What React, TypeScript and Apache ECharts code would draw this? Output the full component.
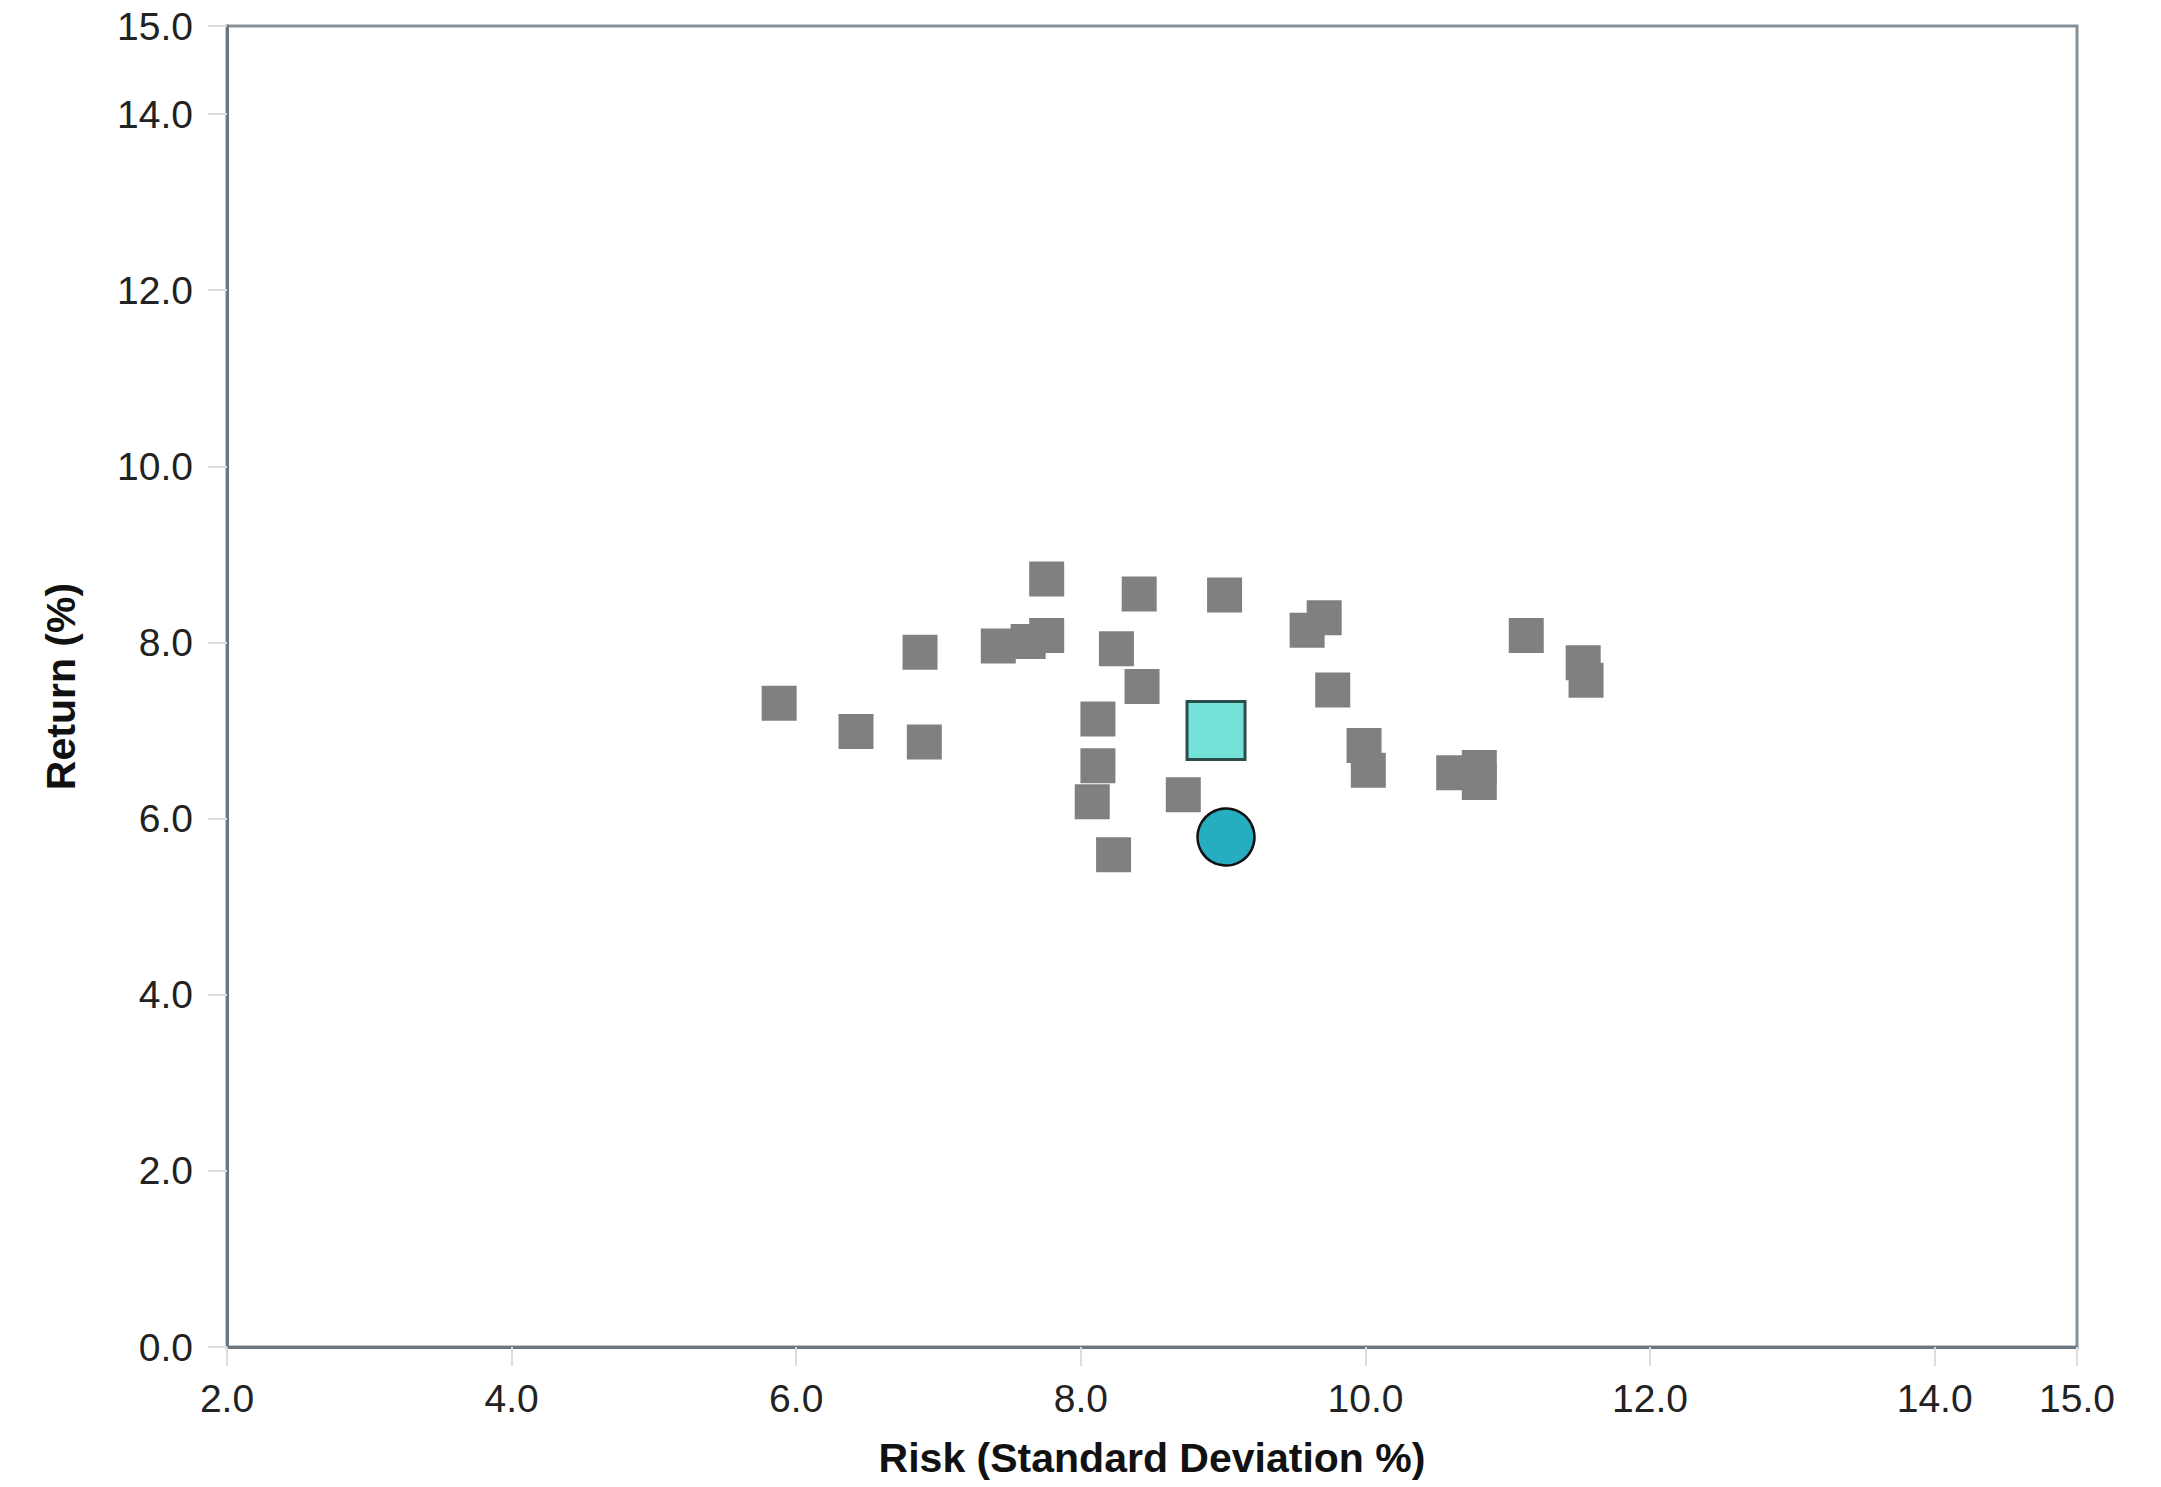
import React, { useEffect, useRef } from "react";
import * as echarts from "echarts";

// Peer group (gray squares): risk (std dev %) and return (%)
const peerRisk = [
  5.88, 6.42, 6.87, 6.9, 7.42, 7.63, 7.76, 7.76, 8.25, 8.41, 8.43, 8.12, 8.12, 8.08,
  8.23, 8.72, 9.01, 9.59, 9.71, 9.77, 9.99, 10.02, 10.62, 10.8, 10.8, 11.13, 11.53, 11.55,
];
const peerReturn = [
  7.31, 6.99, 7.89, 6.87, 7.96, 8.01, 8.08, 8.72, 7.93, 8.55, 7.5, 7.13, 6.6, 6.19,
  5.59, 6.27, 8.54, 8.14, 8.28, 7.46, 6.83, 6.55, 6.52, 6.58, 6.41, 8.08, 7.77, 7.57,
];

// Highlighted portfolio (cyan square) and benchmark (teal circle)
const portfolioPoint = [8.95, 7.0];
const benchmarkPoint = [9.02, 5.79];

const xAxisRange = [2, 15];
const yAxisRange = [0, 15];
const tickStep = 2;

const xAxisTitle = "Risk (Standard Deviation %)";
const yAxisTitle = "Return (%)";

const FONT = "'Liberation Sans', Arial, Helvetica, sans-serif";

export default function App() {
  const ref = useRef<HTMLDivElement>(null);

  useEffect(() => {
    if (!ref.current) return;
    const chart = echarts.init(ref.current, undefined, { renderer: "svg" });

    const peerData = peerRisk.map((r, i) => [r, peerReturn[i]]);

    const makeAxis = (labelMargin: number) => ({
      type: "value" as const,
      interval: tickStep,
      splitLine: { show: false },
      axisTick: {
        show: true,
        inside: false,
        length: 19,
        lineStyle: { color: "#dcdcdc", width: 2 },
      },
      axisLine: { show: true, lineStyle: { color: "#6b767e", width: 3 } },
      axisLabel: {
        color: "#222",
        fontFamily: FONT,
        fontSize: 39,
        margin: labelMargin,
        formatter: (v: number) => v.toFixed(1),
      },
      nameLocation: "middle" as const,
      nameTextStyle: {
        color: "#111",
        fontFamily: FONT,
        fontSize: 41,
        fontWeight: "bold" as const,
      },
    });

    chart.setOption({
      animation: false,
      backgroundColor: "#ffffff",
      grid: {
        left: 227,
        right: 84,
        top: 26,
        bottom: 140,
        show: true,
        borderColor: "#848f96",
        borderWidth: 3,
        backgroundColor: "transparent",
      },
      xAxis: {
        ...makeAxis(32),
        min: xAxisRange[0],
        max: xAxisRange[1],
        name: xAxisTitle,
        nameGap: 90,
      },
      yAxis: {
        ...makeAxis(34),
        min: yAxisRange[0],
        max: yAxisRange[1],
        name: yAxisTitle,
        nameGap: 146,
        nameRotate: 90,
      },
      series: [
        {
          type: "scatter",
          name: "Peers",
          data: peerData,
          symbol: "rect",
          symbolSize: 35,
          itemStyle: { color: "#808080", opacity: 1 },
          z: 2,
        },
        {
          type: "scatter",
          name: "Portfolio",
          data: [portfolioPoint],
          symbol: "rect",
          symbolSize: 58,
          itemStyle: {
            color: "#74e2d8",
            borderColor: "#2d4d4d",
            borderWidth: 3,
            opacity: 1,
          },
          z: 3,
        },
        {
          type: "scatter",
          name: "Benchmark",
          data: [benchmarkPoint],
          symbol: "circle",
          symbolSize: 57,
          itemStyle: {
            color: "#26aec0",
            borderColor: "#111",
            borderWidth: 2.5,
            opacity: 1,
          },
          z: 4,
        },
      ],
    });

    return () => {
      chart.dispose();
    };
  }, []);

  return (
    <div
      ref={ref}
      style={{
        position: "fixed",
        left: 0,
        top: 0,
        width: 2161,
        height: 1487,
        background: "#fff",
      }}
    />
  );
}
